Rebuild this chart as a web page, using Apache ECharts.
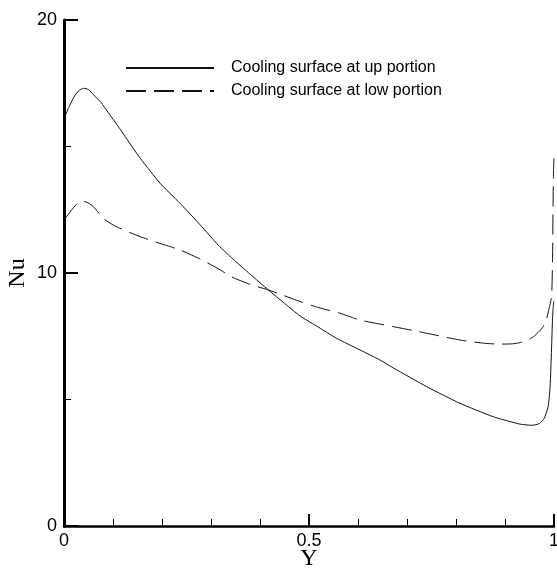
<!DOCTYPE html>
<html>
<head>
<meta charset="utf-8">
<script src="https://cdn.jsdelivr.net/npm/echarts@6/dist/echarts.min.js"></script>
<style>
html,body{margin:0;padding:0;background:#fff;}
#chart{width:557px;height:570px;}
</style>
</head>
<body>
<div id="chart"></div>
<script>
// Series names
var seriesNames = ['Cooling surface at up portion', 'Cooling surface at low portion'];

// Up portion (solid)
var yUp = [0, 0.01, 0.02, 0.03, 0.04, 0.05, 0.06, 0.075, 0.09, 0.114, 0.135, 0.155, 0.196, 0.237, 0.278, 0.315, 0.345, 0.38, 0.417, 0.45, 0.482, 0.52, 0.556, 0.604, 0.645, 0.672, 0.74, 0.808, 0.876, 0.93, 0.955, 0.97, 0.98, 0.988, 0.992, 0.995, 0.997, 0.999, 1.0];
var nuUp = [16.1, 16.55, 16.95, 17.2, 17.3, 17.25, 17.05, 16.75, 16.35, 15.7, 15.1, 14.55, 13.55, 12.75, 11.9, 11.1, 10.55, 9.95, 9.33, 8.8, 8.3, 7.85, 7.42, 6.96, 6.56, 6.25, 5.51, 4.85, 4.32, 4.03, 3.98, 4.05, 4.25, 4.72, 5.5, 7.0, 8.2, 8.8, 8.9];

// Low portion (dashed)
var yLow = [0, 0.01, 0.02, 0.03, 0.043, 0.06, 0.08, 0.1, 0.114, 0.155, 0.196, 0.237, 0.278, 0.312, 0.345, 0.38, 0.417, 0.45, 0.482, 0.52, 0.563, 0.604, 0.645, 0.672, 0.74, 0.808, 0.86, 0.89, 0.915, 0.931, 0.945, 0.958, 0.97, 0.978, 0.985, 0.99, 0.995, 0.997, 0.998, 0.999, 1.0];
var nuLow = [12.1, 12.35, 12.6, 12.78, 12.82, 12.62, 12.16, 11.9, 11.77, 11.44, 11.17, 10.91, 10.55, 10.2, 9.82, 9.55, 9.33, 9.1, 8.87, 8.63, 8.41, 8.14, 7.98, 7.88, 7.62, 7.35, 7.22, 7.19, 7.2, 7.25, 7.35, 7.48, 7.7, 7.88, 8.2, 8.6, 9.06, 10.5, 12.5, 14.0, 14.66];

// Axis ticks
var xTicks = [0, 0.5, 1];
var yTicks = [0, 10, 20];

function pairs(xs, ys) {
  return xs.map(function (x, i) { return [x, ys[i]]; });
}

var chart = echarts.init(document.getElementById('chart'), null, {renderer: 'canvas'});
var tickFont = {fontFamily: 'Liberation Sans', fontSize: 18, color: '#000'};
var nameFont = {fontFamily: 'Liberation Serif', fontSize: 24, color: '#000'};

chart.setOption({
  animation: false,
  backgroundColor: '#fff',
  grid: {left: 64, right: 3, top: 20, bottom: 44, containLabel: false, outerBoundsMode: 'none'},
  legend: {
    orient: 'vertical',
    left: 120,
    top: 55,
    itemWidth: 88,
    itemHeight: 14,
    itemGap: 7,
    itemStyle: {opacity: 0},
    textStyle: {fontFamily: 'Liberation Sans', fontSize: 16, color: '#000', padding: [0, 0, 0, 12]},
    data: seriesNames
  },
  xAxis: {
    type: 'value',
    min: xTicks[0],
    max: xTicks[xTicks.length - 1],
    interval: xTicks[1] - xTicks[0],
    name: 'Y',
    nameLocation: 'middle',
    nameGap: 21,
    nameMoveOverlap: false,
    nameTextStyle: nameFont,
    axisLine: {show: true, lineStyle: {color: '#000', width: 2.5}},
    axisTick: {show: true, inside: true, length: 12, lineStyle: {color: '#000', width: 2}},
    minorTick: {show: true, splitNumber: 5, length: 7, lineStyle: {color: '#000', width: 1}},
    axisLabel: Object.assign({margin: 6, formatter: function (v) { return String(v); }}, tickFont),
    splitLine: {show: false},
    minorSplitLine: {show: false}
  },
  yAxis: {
    type: 'value',
    min: yTicks[0],
    max: yTicks[yTicks.length - 1],
    interval: yTicks[1] - yTicks[0],
    name: 'Nu',
    nameLocation: 'middle',
    nameGap: 34,
    nameMoveOverlap: false,
    nameTextStyle: nameFont,
    axisLine: {show: true, lineStyle: {color: '#000', width: 3}},
    axisTick: {show: true, inside: true, length: 14, lineStyle: {color: '#000', width: 2}},
    minorTick: {show: true, splitNumber: 2, length: 7, lineStyle: {color: '#000', width: 1}},
    axisLabel: Object.assign({margin: 7}, tickFont),
    splitLine: {show: false},
    minorSplitLine: {show: false}
  },
  series: [
    {
      name: seriesNames[0],
      type: 'line',
      data: pairs(yUp, nuUp),
      symbol: 'none',
      smooth: 0.2,
      lineStyle: {color: '#111', width: 1, type: 'solid'},
      itemStyle: {color: '#111'}
    },
    {
      name: seriesNames[1],
      type: 'line',
      data: pairs(yLow, nuLow),
      symbol: 'none',
      smooth: 0.2,
      lineStyle: {color: '#111', width: 1, type: [20, 8]},
      itemStyle: {color: '#111'}
    }
  ]
});
</script>
</body>
</html>
